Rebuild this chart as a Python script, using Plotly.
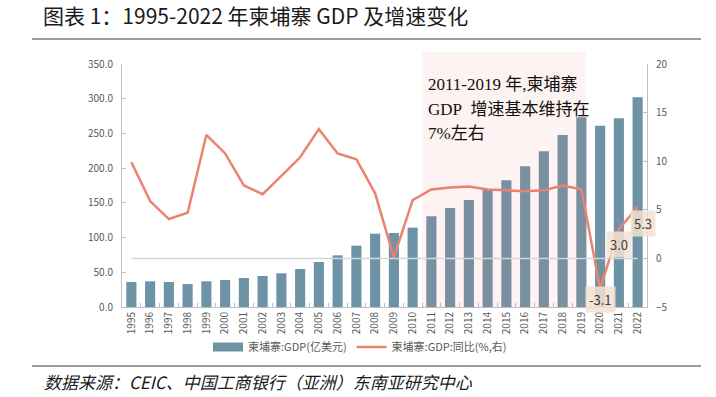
import plotly.graph_objects as go

years = [str(y) for y in range(1995, 2023)]
gdp = [36.0, 37.0, 36.0, 33.0, 37.0, 38.9, 41.8, 44.6, 48.5, 54.7, 64.8, 74.4, 88.3, 105.6,
       106.6, 114.3, 130.6, 142.6, 154.1, 169.0, 182.4, 202.6, 224.2, 247.7, 273.2, 261.2,
       271.7, 302.0]
growth = [9.9, 5.9, 4.05, 4.7, 12.7, 10.8, 7.5, 6.6, 8.5, 10.4, 13.3, 10.8, 10.2, 6.7,
          0.1, 6.0, 7.1, 7.3, 7.4, 7.1, 7.0, 6.9, 7.0, 7.5, 7.1, -3.1, 3.0, 5.3]
labelled_years = ["2020", "2021", "2022"]
highlight = ["2011", "2019"]

bar_name = "柬埔寨:GDP(亿美元)"
line_name = "柬埔寨:GDP:同比(%,右)"
title_text = "图表 1：1995-2022 年柬埔寨 GDP 及增速变化"
LAT = "<span style=\"font-family:'Liberation Serif'\">"
note_lines = [LAT + "2011-2019 </span>年" + LAT + ",</span>柬埔寨",
              LAT + "GDP\u00a0\u00a0</span>增速基本维持在",
              LAT + "7%</span>左右"]
source_text = "数据来源：CEIC、中国工商银行（亚洲）东南亚研究中心"

FONT = "Noto Sans CJK SC"
BAR_COLOR = "#6E93A6"
W, H = 716, 397
L, R, T, B = 122, 69, 64, 90
pw, ph = W - L - R, H - T - B


def px(x):
    return (x - L) / pw


def py(y):
    return (H - B - y) / ph


fig = go.Figure()
fig.add_trace(go.Bar(x=years, y=gdp, name=bar_name, marker_color=BAR_COLOR,
                     marker_line_width=0, yaxis="y", showlegend=False))
# legend entry with a wide rectangular swatch for the bars
fig.add_trace(go.Scatter(x=[years[0]], y=[None], name=bar_name, mode="lines",
                         line=dict(color=BAR_COLOR, width=9), yaxis="y",
                         hoverinfo="skip"))
fig.add_trace(go.Scatter(x=years, y=growth, name=line_name, mode="lines",
                         line=dict(color="#EA846D", width=2.5), yaxis="y2"))

shapes = []
i0, i1 = years.index(highlight[0]), years.index(highlight[1])
shapes.append(dict(type="rect", xref="x", yref="paper", x0=i0 - 0.47, x1=i1 + 0.23,
                   y0=0, y1=py(52), fillcolor="rgba(235,120,110,0.09)", line_width=0,
                   layer="above"))
shapes.append(dict(type="line", xref="x", yref="y2", x0=0, x1=len(years) - 1, y0=0, y1=0,
                   line=dict(color="#D6D6D6", width=1.5), layer="above"))
shapes.append(dict(type="line", xref="paper", yref="paper", x0=px(32), x1=px(701),
                   y0=py(39), y1=py(39), line=dict(color="#9A9A9A", width=2)))
shapes.append(dict(type="line", xref="paper", yref="paper", x0=px(32), x1=px(701),
                   y0=py(366), y1=py(366), line=dict(color="#9A9A9A", width=2)))

annotations = []
for txt, yy in zip(note_lines, [82, 107, 131]):
    annotations.append(dict(xref="paper", yref="paper", x=px(426), y=py(yy), text=txt,
                            showarrow=False, xanchor="left", yanchor="middle",
                            font=dict(family=FONT, size=17, color="#111111")))
shifts = {"2020": (0, -11), "2021": (0, -15), "2022": (5, -17)}
for yr in labelled_years:
    idx = years.index(yr)
    v = growth[idx]
    dx, dy = shifts[yr]
    annotations.append(dict(xref="x", yref="y2", x=idx, y=v, text=f"{v:.1f}",
                            showarrow=False, xshift=dx, yshift=dy, yanchor="middle",
                            bgcolor="rgba(243,226,210,0.85)", borderpad=3,
                            font=dict(family=FONT, size=13, color="#404040")))
annotations.append(dict(xref="paper", yref="paper", x=px(42), y=py(381),
                        text="<i>" + source_text + "</i>", showarrow=False,
                        xanchor="left", yanchor="middle",
                        font=dict(family=FONT, size=17, color="#1A1A1A")))

axis_common = dict(showgrid=False, zeroline=False, showline=True, linecolor="#BFBFBF",
                   linewidth=1, ticks="inside", ticklen=4, tickcolor="#BFBFBF",
                   tickfont=dict(family=FONT, size=10, color="#595959"))

fig.update_layout(
    width=W, height=H, margin=dict(l=L, r=R, t=T, b=B, autoexpand=False),
    paper_bgcolor="white", plot_bgcolor="white",
    font=dict(family=FONT, color="#595959"),
    title=dict(text=title_text, x=43 / W, xanchor="left", y=1 - 17 / H,
               yanchor="middle", font=dict(family=FONT, size=21, color="#1A1A1A")),
    bargap=0.46,
    xaxis=dict(type="category", range=[-0.5, len(years) - 0.5], tickangle=-90,
               tickson="boundaries", **axis_common),
    yaxis=dict(range=[0, 350], dtick=50, tickformat=".1f", ticklabelstandoff=6,
               **axis_common),
    yaxis2=dict(range=[-5, 20], dtick=5, overlaying="y", side="right",
                ticklabelstandoff=6, **axis_common),
    legend=dict(orientation="h", x=px(208), y=py(347), xanchor="left", yanchor="middle",
                font=dict(family=FONT, size=11, color="#595959"), itemwidth=30,
                bgcolor="rgba(0,0,0,0)", traceorder="normal"),
    shapes=shapes, annotations=annotations,
)

fig.write_html("out.html", config={"displayModeBar": False},
               post_script="document.body.style.margin='0';document.body.style.padding='0';")
